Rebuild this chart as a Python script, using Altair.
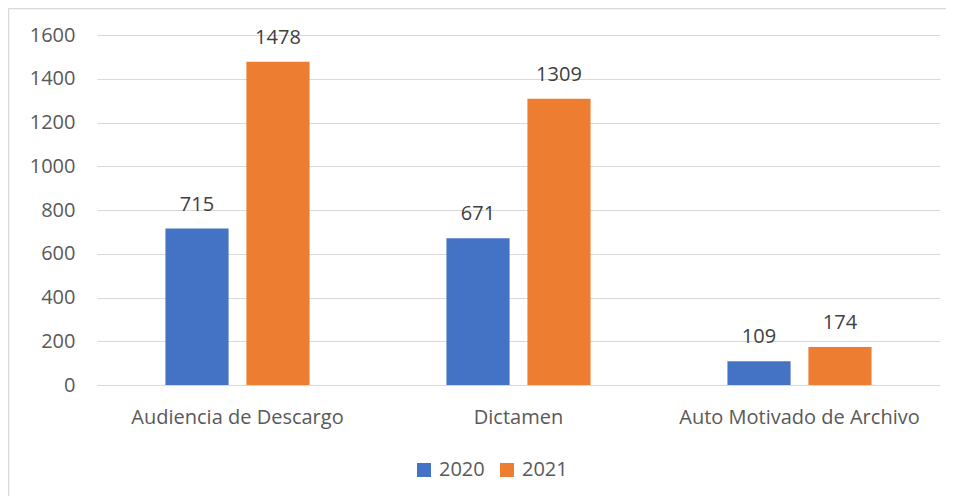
import altair as alt
import pandas as pd

categories = ["Audiencia de Descargo", "Dictamen", "Auto Motivado de Archivo"]
years = ["2020", "2021"]
values_2020 = [715, 671, 109]
values_2021 = [1478, 1309, 174]
colors = ["#4472C4", "#ED7D31"]
y_ticks = [0, 200, 400, 600, 800, 1000, 1200, 1400, 1600]

rows = []
for c, a, b in zip(categories, values_2020, values_2021):
    rows.append({"cat": c, "year": "2020", "value": a})
    rows.append({"cat": c, "year": "2021", "value": b})
df = pd.DataFrame(rows)

FONT = "Open Sans"
FS = 20
W, H = 843, 350

x = alt.X("cat:N", sort=categories, title=None,
          scale=alt.Scale(paddingInner=0, paddingOuter=0),
          axis=alt.Axis(labelAngle=0, labelFontSize=FS, labelColor="#595959",
                        labelFont=FONT, ticks=False, domain=False, labelPadding=22,
                        labelLimit=0))
xo = alt.XOffset("year:N", sort=years,
                 scale=alt.Scale(paddingInner=0.22, paddingOuter=0.845))

bars = alt.Chart(df).mark_bar().encode(
    x=x,
    xOffset=xo,
    y=alt.Y("value:Q", title=None,
            scale=alt.Scale(domain=[0, 1600], nice=False),
            axis=alt.Axis(values=y_ticks, format="d", labelFontSize=FS, labelColor="#595959",
                          labelFont=FONT, ticks=False, domain=False, labelPadding=22,
                          grid=True, gridColor="#d9d9d9", gridWidth=1)),
    color=alt.Color("year:N", sort=years,
                    scale=alt.Scale(domain=years, range=colors),
                    legend=alt.Legend(title=None, orient="none", direction="horizontal",
                                      legendX=317, legendY=425, symbolType="square",
                                      symbolSize=196, symbolStrokeWidth=0,
                                      labelFontSize=FS, labelColor="#595959",
                                      labelFont=FONT, columnPadding=12, labelOffset=5)),
)

labels = alt.Chart(df).mark_text(baseline="alphabetic", dy=-18, fontSize=FS,
                                 color="#404040", font=FONT).encode(
    x=alt.X("cat:N", sort=categories),
    xOffset=alt.XOffset("year:N", sort=years),
    y="value:Q",
    text="value:Q",
)

frame_left = alt.Chart(pd.DataFrame({"a": [0]})).mark_rule(color="#d9d9d9", strokeWidth=1.5).encode(
    x=alt.value(-88.5), y=alt.value(-26.5), y2=alt.value(H + 120)
)
frame_top = alt.Chart(pd.DataFrame({"a": [0]})).mark_rule(color="#d9d9d9", strokeWidth=1.5).encode(
    x=alt.value(-88.5), x2=alt.value(W + 20), y=alt.value(-26.5)
)

chart = alt.layer(bars, labels, frame_left, frame_top).properties(
    width=W, height=H,
    autosize=alt.AutoSizeParams(type="none"),
    padding={"left": 89, "top": 27, "right": 6, "bottom": 111},
    background="white",
).configure_view(stroke=None)

chart.save("out.html", embed_options={"renderer": "svg", "actions": False})
